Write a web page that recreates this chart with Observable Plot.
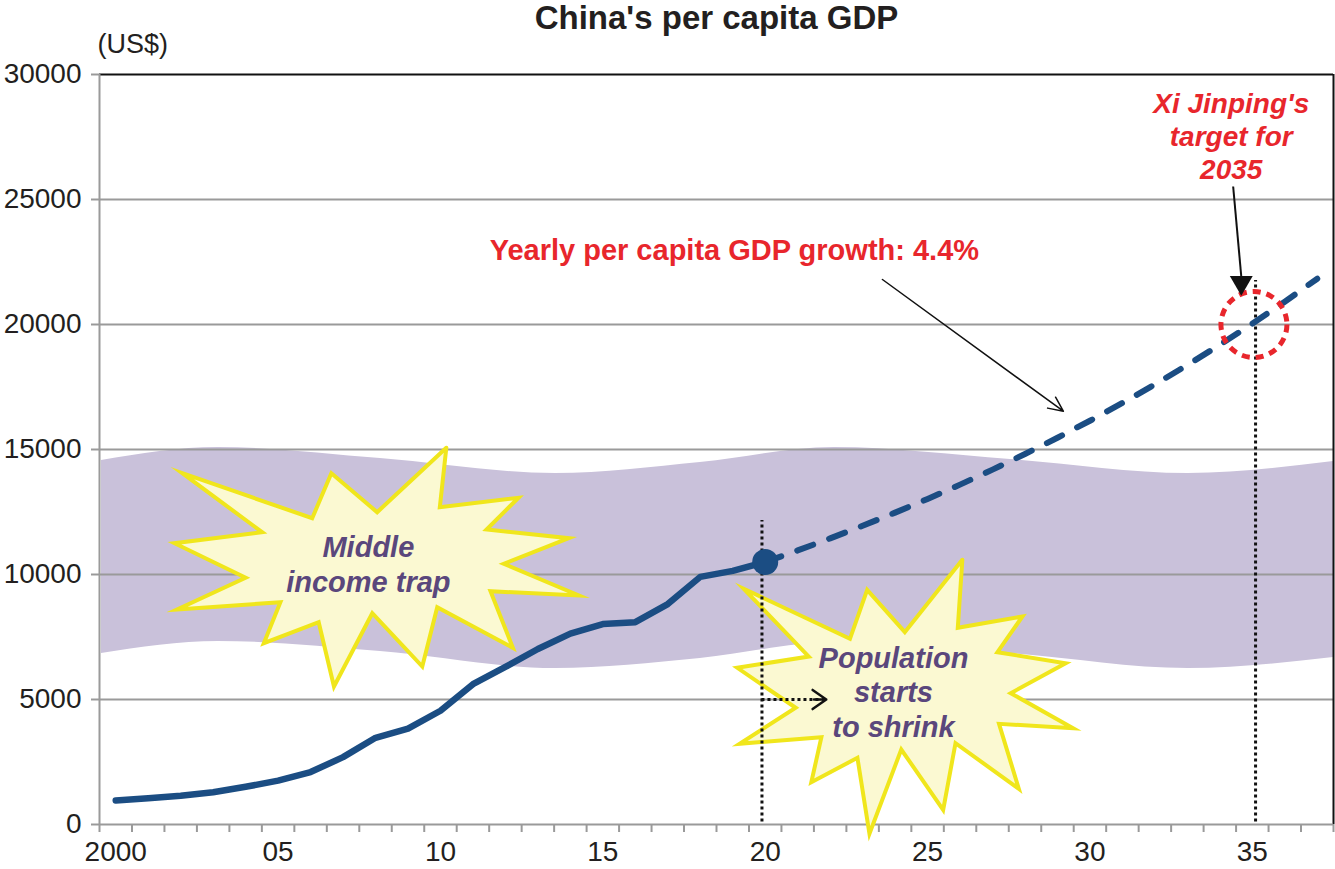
<!DOCTYPE html>
<html><head><meta charset="utf-8">
<script src="https://cdn.jsdelivr.net/npm/d3@7"></script>
<script src="https://cdn.jsdelivr.net/npm/@observablehq/plot@0.6"></script>
<style>body{margin:0;background:#fff} svg{display:block}</style>
</head><body><div id="chart"></div>
<script>
// ---- data ----
const years = [2000,2001,2002,2003,2004,2005,2006,2007,2008,2009,2010,2011,2012,2013,2014,2015,2016,2017,2018,2019,2020];
const gdp = [959,1053,1149,1289,1509,1753,2099,2694,3468,3832,4550,5614,6301,7020,7636,8016,8094,8817,9905,10144,10500];
const projYears = [2020,2021,2022,2023,2024,2025,2026,2027,2028,2029,2030,2031,2032,2033,2034,2035,2036,2037];
const projGdp = [10500,10962,11444,11948,12474,13022,13595,14194,14818,15470,16151,16861,17603,18378,19186,20031,20912,21832];
const yTicks = [0,5000,10000,15000,20000,25000,30000];
const xLabelYears = [2000,2005,2010,2015,2020,2025,2030,2035];
const xLabels = ["2000","05","10","15","20","25","30","35"];
// "middle income trap" band
const bandX = [1999.56,2003.16,2008.15,2013.54,2018.0,2022.13,2027.55,2033.03,2037.5];
const bandTop = [14560,15080,14640,14040,14480,15080,14600,14040,14520];
const bandBottom = [6840,7320,6920,6240,6640,7280,6840,6240,6680];
// starburst outlines (year, US$)
const star1X = [2010.18,2009.98,2012.40,2011.42,2013.95,2011.95,2014.26,2011.54,2012.23,2009.90,2009.44,2007.90,2006.72,2006.25,2004.56,2005.07,2001.89,2004.00,2001.81,2004.51,2002.05,2006.05,2006.64,2008.05,2010.18];
const star1Y = [15068,12692,13068,11800,11452,10428,9160,9332,7068,8692,6320,8452,5520,8092,7252,8892,8600,9868,11252,11692,14052,12252,14052,12492,15068];
const star2X = [2026.07,2025.93,2027.92,2027.15,2029.25,2027.56,2029.48,2027.20,2027.81,2025.86,2025.48,2024.19,2023.21,2022.84,2021.42,2021.73,2019.21,2020.94,2019.14,2021.34,2019.34,2022.61,2023.14,2024.30,2026.07];
const star2Y = [10588,7868,8320,6892,6452,5252,3852,4028,1428,3252,588,3000,-372,2668,1692,3492,3228,4668,6268,6720,9428,7428,9388,7692,10588];

const title = "China's per capita GDP";
const unit = "(US$)";
const growthLabel = "Yearly per capita GDP growth: 4.4%";
const xiLabel = "Xi Jinping's\ntarget for\n2035";
const trapLabel = "Middle\nincome trap";
const popLabel = "Population\nstarts\nto shrink";

// ---- derived tables ----
const hist = years.map((x,i)=>({x, y:gdp[i]}));
const proj = projYears.map((x,i)=>({x, y:projGdp[i]}));
const band = bandX.map((x,i)=>({x, y1:bandBottom[i], y2:bandTop[i]}));
const star1 = star1X.map((x,i)=>({x, y:star1Y[i]}));
const star2 = star2X.map((x,i)=>({x, y:star2Y[i]}));

const blue = "#1b4d83", red = "#e8262c", purpleText = "#5a477c", grid = "#9a9a9a", ink = "#231f20";
const font = "Liberation Sans, Arial, Helvetica, sans-serif";
const starFill = "#fbf9d2", starStroke = "#f0e61c";

const chart = Plot.plot({
  width: 1335, height: 869,
  marginLeft: 99, marginRight: 2, marginTop: 74, marginBottom: 45,
  style: {fontFamily: font, background: "#fff", color: ink, overflow: "visible"},
  x: {domain: [1999.5, 2037.5]},
  y: {domain: [0, 30000]},
  marks: [
    Plot.areaY(band, {x:"x", y1:"y1", y2:"y2", fill:"#c9c1da", curve:"monotone-x"}),
    Plot.ruleY(yTicks.filter(d=>d>0 && d<30000), {stroke:grid, strokeWidth:2}),
    Plot.ruleY([30000], {stroke:"#111", strokeWidth:2}),
    Plot.ruleX([2037.5], {stroke:"#111", strokeWidth:2}),
    Plot.ruleX([1999.5], {stroke:grid, strokeWidth:2}),
    Plot.ruleY([0], {stroke:grid, strokeWidth:2}),
    Plot.axisY({ticks: yTicks, tickSize: 8, tickPadding: 10, fontSize: 28, stroke: grid, strokeWidth: 2, fill: ink, tickFormat: d=>String(d), label: null}),
    Plot.axisX({ticks: d3.range(1999.5, 2038, 1), tickSize: 8, stroke: grid, strokeWidth: 2, tickFormat: ()=>"", label: null}),
    Plot.axisX({ticks: xLabelYears, tickSize: 0, tickPadding: 17, fontSize: 28, fill: ink, tickFormat: d=>xLabels[xLabelYears.indexOf(d)], label: null}),
    // starbursts
    Plot.line(star1, {x:"x", y:"y", fill:starFill, stroke:starStroke, strokeWidth:4, strokeLinejoin:"miter", strokeMiterlimit:12}),
    Plot.line(star2, {x:"x", y:"y", fill:starFill, stroke:starStroke, strokeWidth:4, strokeLinejoin:"miter", strokeMiterlimit:12}),
    Plot.text([trapLabel], {x: ()=>2007.78, y: ()=>10460, text: d=>d, fontSize: 29, fontWeight: "bold", fontStyle: "italic", fill: purpleText, lineHeight: 1.2}),
    Plot.text([popLabel], {x: ()=>2023.95, y: ()=>5320, text: d=>d, fontSize: 29, fontWeight: "bold", fontStyle: "italic", fill: purpleText, lineHeight: 1.18}),
    // dotted guides
    Plot.ruleX([2019.9], {y1: 100, y2: 12160, stroke:"#111", strokeWidth:3, strokeDasharray:"3,3"}),
    Plot.ruleX([2035.1], {y1: 100, y2: 21760, stroke:"#111", strokeWidth:3, strokeDasharray:"3,3"}),
    Plot.ruleY([5000], {x1: 2019.9, x2: 2021.7, stroke:"#111", strokeWidth:3, strokeDasharray:"3,3"}),
    Plot.arrow([0], {x1: ()=>2019.9, y1: ()=>5000, x2: ()=>2021.88, y2: ()=>5000, insetStart: 52, stroke:"#111", strokeWidth:2.5, headLength:10, headAngle:70}),
    // GDP lines
    Plot.line(proj, {x:"x", y:"y", stroke:blue, strokeWidth:6, strokeDasharray:"17,17", strokeLinecap:"round"}),
    Plot.line(hist, {x:"x", y:"y", stroke:blue, strokeWidth:6.5, strokeLinecap:"round", strokeLinejoin:"round"}),
    Plot.dot([hist[hist.length-1]], {x:"x", y:"y", r:13, fill:blue}),
    // target circle
    Plot.dot([0], {x: ()=>2035.05, y: ()=>20000, r:33, fill:"none", stroke:red, strokeWidth:5, strokeDasharray:"8,6"}),
    // annotations
    Plot.arrow([0], {x1: ()=>2023.61, y1: ()=>21800, x2: ()=>2029.18, y2: ()=>16532, stroke:"#111", strokeWidth:1.5, headLength:16, headAngle:50}),
    Plot.link([0], {x1: ()=>2034.41, y1: ()=>25520, x2: ()=>2034.66, y2: ()=>21920, stroke:"#111", strokeWidth:2}),
    Plot.dot([0], {x: ()=>2034.66, y: ()=>21680, symbol:"triangle", rotate:180, r:8.5, fill:"#111", stroke:"none"}),
    Plot.text([growthLabel], {x: ()=>2019.05, y: ()=>22960, text: d=>d, fontSize: 29, fontWeight: "bold", fill: red}),
    Plot.text([xiLabel], {x: ()=>2034.35, y: ()=>27560, text: d=>d, fontSize: 28, fontWeight: "bold", fontStyle: "italic", fill: red, lineHeight: 1.18}),
    // title & unit
    Plot.text([title], {frameAnchor:"top", dy:-56, lineAnchor:"middle", text: d=>d, fontSize: 33, fontWeight: "bold", fill: ink}),
    Plot.text([unit], {frameAnchor:"top-left", dx:-2, dy:-30, lineAnchor:"middle", text: d=>d, fontSize: 27, textAnchor:"start", fill: ink})
  ]
});
document.getElementById("chart").appendChild(chart);
</script>
</body></html>
